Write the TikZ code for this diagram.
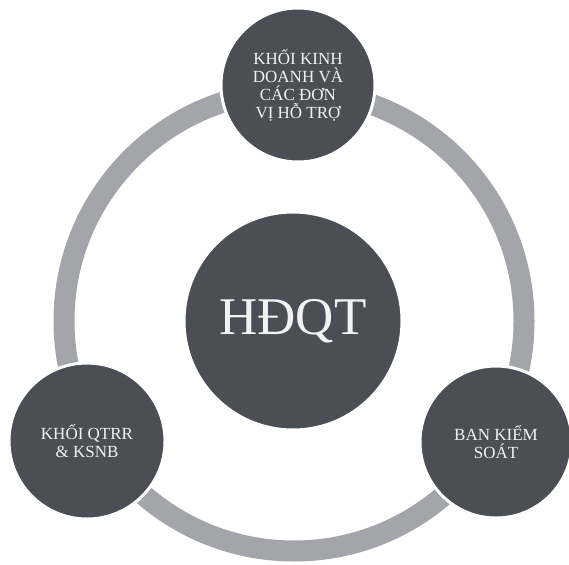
\documentclass[tikz,border=0pt]{standalone}
\usepackage{fontspec}
\setmainfont{Liberation Serif}
\usepackage{tikz}
\usetikzlibrary{positioning,calc}
\definecolor{orgdark}{HTML}{4B4E55}
\definecolor{orgring}{HTML}{A3A5AA}
\definecolor{orgtext}{HTML}{F2F2F2}
\tikzset{
  unitbox/.style={circle, fill=orgdark, draw=white, line width=3pt, text=orgtext, align=center, inner sep=0pt, font=\fontsize{17}{18}\selectfont},
  boardbox/.style={circle, fill=orgdark, draw=white, line width=3pt, text=orgtext, align=center, inner sep=0pt, minimum size=218pt, font=\fontsize{53}{56}\selectfont},
  ring/.style={draw=orgring, line width=21pt}
}
\begin{document}
\begin{tikzpicture}[x=1pt, y=1pt]
  \useasboundingbox (0,0) rectangle (569,-564);
  \coordinate (C) at (294,-321);
  \draw[ring] (C) circle (230);

  \node[boardbox] (H) at (293,-321) {HĐQT};
  \node[unitbox, minimum size=154pt] (K) at (298,-85) {KHỐI KINH\\DOANH VÀ\\CÁC ĐƠN\\VỊ HỖ TRỢ};
  \node[unitbox, minimum size=156pt] (Q) at (87,-441) {KHỐI QTRR\\\& KSNB};
  \node[unitbox, minimum size=152pt] (B) at (496,-442) {BAN KIỂM\\SOÁT};
\end{tikzpicture}
\end{document}
